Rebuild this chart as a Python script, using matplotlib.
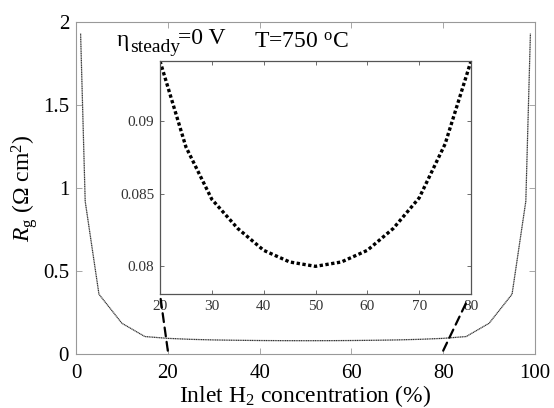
import numpy as np
import matplotlib
matplotlib.use('Agg')
import matplotlib.pyplot as plt
from matplotlib.patches import ConnectionPatch

plt.rcParams['font.family'] = 'Liberation Serif'
plt.rcParams['mathtext.fontset'] = 'custom'
plt.rcParams['mathtext.rm'] = 'Liberation Serif'
plt.rcParams['mathtext.it'] = 'Liberation Serif:italic'

# data
inset_x = [20, 25, 30, 35, 40, 45, 50, 55, 60, 65, 70, 75, 80]
inset_y = [0.0941, 0.0882, 0.0846, 0.0826, 0.0811, 0.0803, 0.0800,
           0.0803, 0.0811, 0.0826, 0.0847, 0.0884, 0.0941]
left_x = [1, 2, 5, 10, 15]
left_y = [1.93, 0.92, 0.36, 0.185, 0.105]
right_x = [85, 90, 95, 98, 99]
right_y = [0.105, 0.185, 0.36, 0.92, 1.93]

main_x = left_x + inset_x + right_x
main_y = left_y + inset_y + right_y

xticks = [0, 20, 40, 60, 80, 100]
yticks = [0, 0.5, 1, 1.5, 2]
ytick_labels = ['0', '0.5', '1', '1.5', '2']
in_xticks = [20, 30, 40, 50, 60, 70, 80]
in_yticks = [0.08, 0.085, 0.09]
in_ytick_labels = ['0.08', '0.085', '0.09']

W, H = 554, 408
fig = plt.figure(figsize=(W / 100, H / 100), dpi=100)

def px(x, y):
    # pixel position (from top left) to figure fraction
    return x / W, 1 - y / H

# main axes
ax = fig.add_axes([0.1372, 0.1324, 0.8285, 0.8137])
ax.plot(main_x, main_y, color='#333333', lw=0.9, ls=(0, (1, 0.4)))
ax.set_xlim(0, 100)
ax.set_ylim(0, 2)
ax.set_xticks(xticks)
ax.set_yticks(yticks)
ax.set_yticklabels(ytick_labels)
ax.tick_params(direction='in', top=True, right=True, length=4, width=0.6,
               color='#999999', labelsize=15, pad=5)
ax.tick_params(axis='x', pad=7)
for s in ax.spines.values():
    s.set_color('#999999')
    s.set_linewidth(0.8)
ax.set_xlabel(r'Inlet H$_2$ concentration (%)', fontsize=17, labelpad=0)
ax.set_ylabel(r'$R_{\mathrm{g}}$ ($\Omega$ cm$^2$)', fontsize=17, labelpad=2)

# annotations
fig.text(*px(117, 46), 'η', fontsize=17, va='baseline')
fig.text(*px(130, 52), 'steady', fontsize=14, va='baseline')
fig.text(*px(178, 44), '=0 V', fontsize=17, va='baseline')
fig.text(*px(254, 48), r'T=750 $^{\mathrm{o}}$C', fontsize=17, va='baseline')

# inset axes
axin = fig.add_axes([0.2888, 0.2794, 0.5614, 0.5711])
axin.plot(inset_x, inset_y, color='black', lw=2.4, ls=(0, (1, 0.75)))
axin.set_xlim(20, 80)
axin.set_ylim(0.0781, 0.0941)
axin.set_xticks(in_xticks)
axin.set_yticks(in_yticks)
axin.set_yticklabels(in_ytick_labels)
axin.tick_params(direction='in', top=True, right=True, length=3, width=0.6,
                 color='#555555', labelsize=11, labelcolor='#333333', pad=4)
for s in axin.spines.values():
    s.set_color('#555555')
    s.set_linewidth(0.9)

# dashed connectors from the main axis to the inset corners
for xa, xb, yb in [(20, 20, 0.0781), (80, 79.2, 0.0776)]:
    con = ConnectionPatch(xyA=(xa, 0.02), coordsA=ax.transData,
                          xyB=(xb, yb), coordsB=axin.transData,
                          color='black', lw=1.6, ls=(0, (4, 2.5)))
    con.set_clip_on(False)
    fig.add_artist(con)

fig.savefig('out.png', dpi=100)
